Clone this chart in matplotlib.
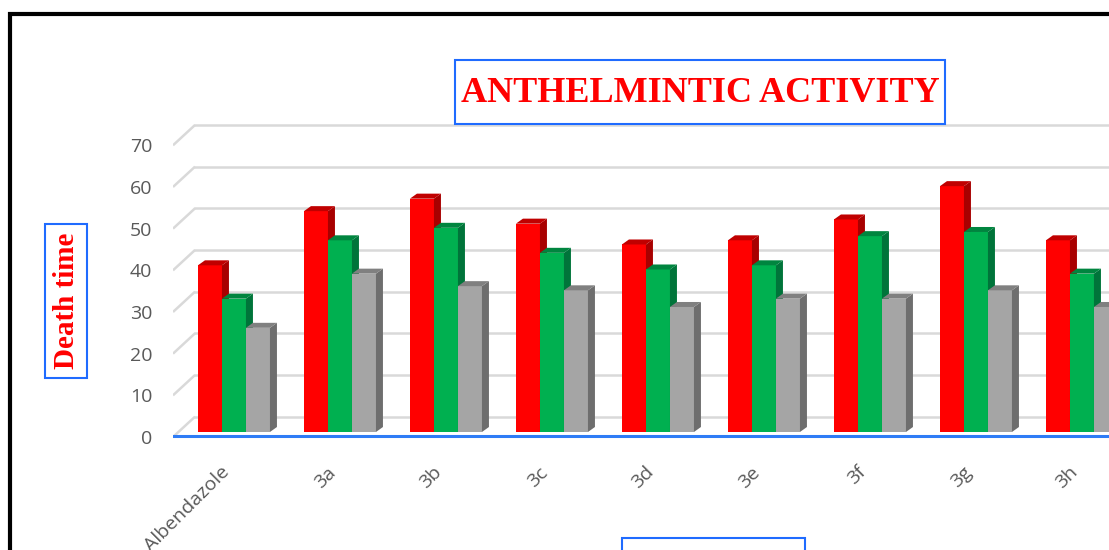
import numpy as np
import matplotlib
matplotlib.use("Agg")
import matplotlib.pyplot as plt
from matplotlib.patches import Polygon, Rectangle
from matplotlib.transforms import ScaledTranslation

# data
categories = ["Albendazole", "3a", "3b", "3c", "3d", "3e", "3f", "3g", "3h"]
series_1 = [40, 53, 56, 50, 45, 46, 51, 59, 46]
series_2 = [32, 46, 49, 43, 39, 40, 47, 48, 38]
series_3 = [25, 38, 35, 34, 30, 32, 32, 34, 30]
yticks = [0, 10, 20, 30, 40, 50, 60, 70]

front_cols = ["#ff0000", "#00b050", "#a5a5a5"]
side_cols = ["#a80000", "#00743a", "#6e6e6e"]
top_cols = ["#c00000", "#00853f", "#808080"]

W, H = 1109, 550
fig = plt.figure(figsize=(W / 100, H / 100), dpi=100)

# axes geometry in pixels
px_x = 106.0          # pixels per category
px_y = 4.167          # pixels per unit
left_px = 173
x0 = -0.575
x1 = 9.5
y0, y1 = -4, 76
base_px = 432
ax = fig.add_axes([left_px / W, (H - (base_px - y0 * px_y)) / H,
                   (x1 - x0) * px_x / W, (y1 - y0) * px_y / H])
ax.set_xlim(x0, x1)
ax.set_ylim(y0, y1)
for s in ax.spines.values():
    s.set_visible(False)

# back wall gridlines with a little perspective step on the left
gx = 22 / px_x
back = 15.3 / px_y
front = -5 / px_y
for v in yticks:
    ax.plot([x0, x0 + gx], [v + front, v + back], color="#d9d9d9", lw=1.8,
            solid_capstyle="butt", zorder=1)
    ax.plot([x0 + gx, x1], [v + back, v + back], color="#d9d9d9", lw=1.8,
            zorder=1)
ax.plot([x0, x1], [front + 0.2, front + 0.2], color="#2e7cf6", lw=2.2, zorder=2)

# pseudo 3d bars
bw = 24 / px_x
dx = 7 / px_x
dy = 5 / px_y
x = np.arange(len(categories))
for k, vals in enumerate([series_1, series_2, series_3]):
    xs = x - 1.5 * bw + k * bw
    ax.bar(xs, vals, width=bw, align="edge", color=front_cols[k], zorder=3 + k)
    for xl, v in zip(xs, vals):
        xr = xl + bw
        ax.add_patch(Polygon([[xr, 0], [xr + dx, dy], [xr + dx, v + dy], [xr, v]],
                             closed=True, color=side_cols[k], lw=0, zorder=3 + k))
        ax.add_patch(Polygon([[xl, v], [xl + dx, v + dy], [xr + dx, v + dy], [xr, v]],
                             closed=True, color=top_cols[k], lw=0, zorder=3 + k))

tick_font = dict(family="Open Sans", size=14, color="#595959")
ax.set_yticks(yticks)
ax.set_yticklabels([str(v) for v in yticks], **tick_font)
ax.tick_params(axis="y", length=0, pad=15)
for lab in ax.get_yticklabels():
    lab.set_transform(lab.get_transform() + ScaledTranslation(0, -0.05, fig.dpi_scale_trans))

ax.set_xticks(x)
ax.set_xticklabels(categories, rotation=45, ha="right", va="center",
                   rotation_mode="anchor", **tick_font)
ax.tick_params(axis="x", length=0, pad=15)
for lab in ax.get_xticklabels():
    lab.set_transform(lab.get_transform() + ScaledTranslation(-0.07, 0, fig.dpi_scale_trans))

# title box
fig.add_artist(Rectangle((455 / W, 1 - 124 / H), 490 / W, 64 / H, fill=False,
                         ec="#1f6bff", lw=1.5, transform=fig.transFigure))
fig.text(700 / W, 1 - 94 / H, "ANTHELMINTIC ACTIVITY", ha="center", va="center",
         family="Liberation Serif", weight="bold", size=26, color="#ff0000")

# y title box
fig.add_artist(Rectangle((45 / W, 1 - 378 / H), 42 / W, 154 / H, fill=False,
                         ec="#1f6bff", lw=1.5, transform=fig.transFigure))
fig.text(67 / W, 1 - 301 / H, "Death time", ha="center", va="center", rotation=90,
         family="Liberation Serif", weight="bold", size=21, color="#ff0000")

# x title box (cut off by the picture edge)
fig.add_artist(Rectangle((622 / W, -0.1), 183 / W, 0.1 + 12 / H, fill=False,
                         ec="#1f6bff", lw=1.5, transform=fig.transFigure))

# outer chart frame, cut off on the right and bottom
fig.add_artist(Rectangle((9.5 / W, -0.2), 1.5, 1.2 - 13.5 / H, fill=False,
                         ec="black", lw=3, transform=fig.transFigure))

fig.savefig("out.png", dpi=100)
